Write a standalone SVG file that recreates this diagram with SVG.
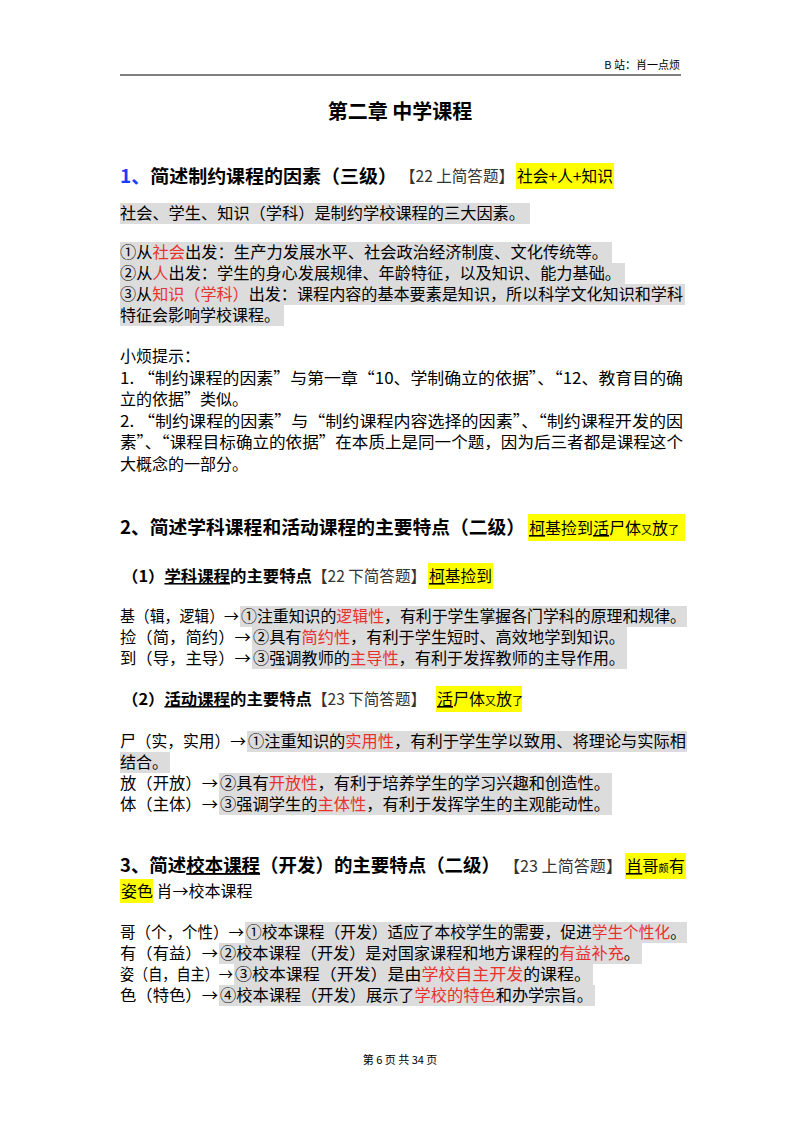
<svg xmlns="http://www.w3.org/2000/svg" width="800" height="1132" viewBox="0 0 800 1132">
<style>
text{font-family:"Noto Sans CJK SC","Noto Sans",sans-serif;fill:#000}
.b{font-size:16px}
.h{font-size:18.5px;font-weight:bold}
.r{fill:#e8322e}
.g{fill:#dcdcdc}
.y{fill:#ffff00}
.n{font-size:16px;fill:#333}
.s{font-size:11px}
.u{text-decoration:underline}
</style>
<rect width="800" height="1132" fill="#fff"/>
<g id="header">
<line x1="120" y1="75" x2="681" y2="75" stroke="#000" stroke-width="1"/>
<text x="680" y="69" class="s" text-anchor="end">B 站：肖一点烦</text>
<text x="400" y="119" font-size="20" font-weight="bold" text-anchor="middle">第二章  中学课程</text>
</g>
<g id="sec1">
<rect class="y" x="516" y="163" width="98" height="26"/>
<text x="120" y="183" class="h" textLength="277" lengthAdjust="spacingAndGlyphs"><tspan fill="#1a3cff">1、</tspan>简述制约课程的因素（三级）</text>
<text x="400" y="182" class="n" textLength="114" lengthAdjust="spacingAndGlyphs">【22 上简答题】</text>
<text x="517" y="182" class="b" textLength="96" lengthAdjust="spacingAndGlyphs">社会+人+知识</text>
<rect class="g" x="120" y="203" width="410" height="21"/>
<text x="120" y="219" class="b" textLength="405" lengthAdjust="spacingAndGlyphs">社会、学生、知识（学科）是制约学校课程的三大因素。</text>
<rect class="g" x="120" y="242" width="492" height="21"/>
<rect class="g" x="120" y="263" width="505" height="21"/>
<rect class="g" x="120" y="284" width="565" height="21"/>
<rect class="g" x="120" y="305" width="164" height="21"/>
<text x="120" y="258" class="b" textLength="488" lengthAdjust="spacingAndGlyphs">①从<tspan class="r">社会</tspan>出发：生产力发展水平、社会政治经济制度、文化传统等。</text>
<text x="120" y="279" class="b" textLength="501" lengthAdjust="spacingAndGlyphs">②从<tspan class="r">人</tspan>出发：学生的身心发展规律、年龄特征，以及知识、能力基础。</text>
<text x="120" y="300" class="b" textLength="563" lengthAdjust="spacingAndGlyphs">③从<tspan class="r">知识（学科）</tspan>出发：课程内容的基本要素是知识，所以科学文化知识和学科</text>
<text x="120" y="321" class="b">特征会影响学校课程。</text>
<text x="120" y="362" class="b">小烦提示：</text>
<text x="120" y="384" class="b" textLength="563" lengthAdjust="spacingAndGlyphs">1.  “制约课程的因素”与第一章“10、学制确立的依据”、“12、教育目的确</text>
<text x="120" y="405" class="b">立的依据”类似。</text>
<text x="120" y="427" class="b" textLength="563" lengthAdjust="spacingAndGlyphs">2.  “制约课程的因素”与“制约课程内容选择的因素”、“制约课程开发的因</text>
<text x="120" y="448" class="b" textLength="563" lengthAdjust="spacingAndGlyphs">素”、“课程目标确立的依据”在本质上是同一个题，因为后三者都是课程这个</text>
<text x="120" y="470" class="b">大概念的一部分。</text>
</g>
<g id="sec2">
<rect class="y" x="528" y="514" width="157" height="27"/>
<text x="120" y="534" class="h" textLength="405" lengthAdjust="spacingAndGlyphs">2、简述学科课程和活动课程的主要特点（二级）</text>
<text x="529" y="534" class="b"><tspan class="u">柯</tspan>基捡到<tspan class="u">活</tspan>尸体<tspan font-size="11">又</tspan>放<tspan font-size="11">了</tspan></text>
<rect class="y" x="428" y="563" width="65" height="26"/>
<text x="122" y="582" font-size="15.5" font-weight="bold" textLength="190" lengthAdjust="spacingAndGlyphs">（1）<tspan class="u">学科课程</tspan>的主要特点</text>
<text x="312" y="582" class="n" textLength="114" lengthAdjust="spacingAndGlyphs">【22 下简答题】</text>
<text x="429" y="582" class="b" textLength="63" lengthAdjust="spacingAndGlyphs"><tspan class="u">柯</tspan>基捡到</text>
<rect class="g" x="240" y="606" width="447" height="21"/>
<rect class="g" x="252" y="627" width="375" height="21"/>
<rect class="g" x="252" y="648" width="375" height="21"/>
<text x="120" y="622" class="b" textLength="119" lengthAdjust="spacingAndGlyphs">基（辑，逻辑）→</text>
<text x="241" y="622" class="b" textLength="445" lengthAdjust="spacingAndGlyphs">①注重知识的<tspan class="r">逻辑性</tspan>，有利于学生掌握各门学科的原理和规律。</text>
<text x="120" y="643" class="b" textLength="131" lengthAdjust="spacingAndGlyphs">捡（简，简约）→</text>
<text x="253" y="643" class="b" textLength="372" lengthAdjust="spacingAndGlyphs">②具有<tspan class="r">简约性</tspan>，有利于学生短时、高效地学到知识。</text>
<text x="120" y="664" class="b" textLength="131" lengthAdjust="spacingAndGlyphs">到（导，主导）→</text>
<text x="253" y="664" class="b" textLength="372" lengthAdjust="spacingAndGlyphs">③强调教师的<tspan class="r">主导性</tspan>，有利于发挥教师的主导作用。</text>
<rect class="y" x="436" y="686" width="86" height="26"/>
<text x="122" y="705" font-size="15.5" font-weight="bold" textLength="190" lengthAdjust="spacingAndGlyphs">（2）<tspan class="u">活动课程</tspan>的主要特点</text>
<text x="312" y="705" class="n" textLength="114" lengthAdjust="spacingAndGlyphs">【23 下简答题】</text>
<text x="437" y="705" class="b"><tspan class="u">活</tspan>尸体<tspan font-size="11">又</tspan>放<tspan font-size="11">了</tspan></text>
<rect class="g" x="247" y="731" width="440" height="21"/>
<rect class="g" x="120" y="752" width="50" height="21"/>
<rect class="g" x="219" y="773" width="393" height="21"/>
<rect class="g" x="219" y="794" width="393" height="21"/>
<text x="120" y="747" class="b" textLength="126" lengthAdjust="spacingAndGlyphs">尸（实，实用）→</text>
<text x="248" y="747" class="b" textLength="438" lengthAdjust="spacingAndGlyphs">①注重知识的<tspan class="r">实用性</tspan>，有利于学生学以致用、将理论与实际相</text>
<text x="120" y="768" class="b">结合。</text>
<text x="120" y="789" class="b" textLength="98" lengthAdjust="spacingAndGlyphs">放（开放）→</text>
<text x="220" y="789" class="b" textLength="390" lengthAdjust="spacingAndGlyphs">②具有<tspan class="r">开放性</tspan>，有利于培养学生的学习兴趣和创造性。</text>
<text x="120" y="810" class="b" textLength="98" lengthAdjust="spacingAndGlyphs">体（主体）→</text>
<text x="220" y="810" class="b" textLength="390" lengthAdjust="spacingAndGlyphs">③强调学生的<tspan class="r">主体性</tspan>，有利于发挥学生的主观能动性。</text>
</g>
<g id="sec3">
<rect class="y" x="625" y="853" width="61" height="26"/>
<rect class="y" x="120" y="879" width="33" height="24"/>
<text x="120" y="872" class="h" textLength="380" lengthAdjust="spacingAndGlyphs">3、简述<tspan class="u">校本课程</tspan>（开发）的主要特点（二级）</text>
<text x="504" y="872" class="n" textLength="118" lengthAdjust="spacingAndGlyphs">【23 上简答题】</text>
<text x="626" y="872" class="b" textLength="59" lengthAdjust="spacingAndGlyphs"><tspan class="u">肖</tspan>哥<tspan font-size="10">颇</tspan>有</text>
<text x="121" y="897" class="b">姿色 肖→校本课程</text>
<rect class="g" x="245" y="922" width="442" height="21"/>
<rect class="g" x="219" y="943" width="423" height="21"/>
<rect class="g" x="234" y="964" width="359" height="21"/>
<rect class="g" x="219" y="985" width="376" height="21"/>
<text x="120" y="938" class="b" textLength="124" lengthAdjust="spacingAndGlyphs">哥（个，个性）→</text>
<text x="246" y="938" class="b" textLength="440" lengthAdjust="spacingAndGlyphs">①校本课程（开发）适应了本校学生的需要，促进<tspan class="r">学生个性化</tspan>。</text>
<text x="120" y="959" class="b" textLength="98" lengthAdjust="spacingAndGlyphs">有（有益）→</text>
<text x="220" y="959" class="b" textLength="420" lengthAdjust="spacingAndGlyphs">②校本课程（开发）是对国家课程和地方课程的<tspan class="r">有益补充</tspan>。</text>
<text x="120" y="980" class="b" textLength="113" lengthAdjust="spacingAndGlyphs">姿（自，自主）→</text>
<text x="235" y="980" class="b" textLength="356" lengthAdjust="spacingAndGlyphs">③校本课程（开发）是由<tspan class="r">学校自主开发</tspan>的课程。</text>
<text x="120" y="1001" class="b" textLength="98" lengthAdjust="spacingAndGlyphs">色（特色）→</text>
<text x="220" y="1001" class="b" textLength="373" lengthAdjust="spacingAndGlyphs">④校本课程（开发）展示了<tspan class="r">学校的特色</tspan>和办学宗旨。</text>
</g>
<g id="footer">
<text x="400" y="1064" class="s" text-anchor="middle">第 6 页 共 34 页</text>
</g>
</svg>
